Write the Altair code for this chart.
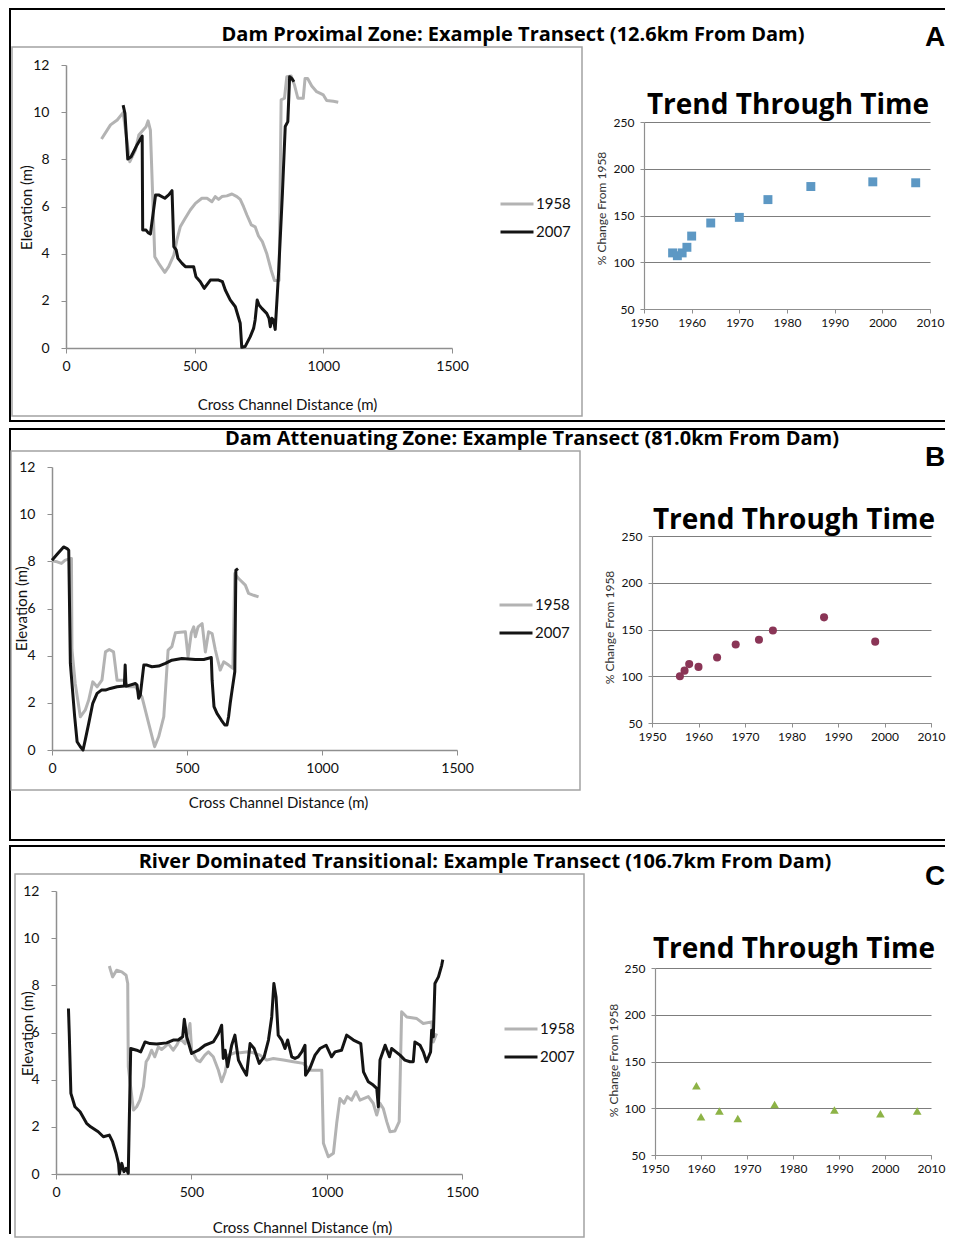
import altair as alt
import pandas as pd

# ---------------- data ----------------
# Transect A (Dam Proximal Zone, 12.6 km from dam): (distance m, elevation m)
A_1958 = [(138, 8.86), (173, 9.46), (199, 9.67), (222, 9.98), (248, 7.9), (270, 8.4), (283, 9.03),
          (311, 9.38), (319, 9.63), (328, 9.24), (345, 3.87), (360, 3.59), (384, 3.21), (399, 3.45),
          (419, 3.94), (431, 4.58), (444, 5.14), (461, 5.46), (483, 5.85), (503, 6.13), (528, 6.35),
          (548, 6.35), (567, 6.2), (580, 6.42), (593, 6.3), (606, 6.42), (625, 6.45), (645, 6.53),
          (664, 6.42), (677, 6.3), (690, 5.99), (703, 5.64), (720, 5.22), (735, 5.14), (748, 4.75),
          (763, 4.51), (780, 4.01), (797, 3.31), (810, 2.86), (828, 2.86), (836, 10.52), (849, 10.59),
          (858, 11.5), (875, 11.53), (888, 11.15), (901, 10.59), (922, 10.59), (929, 11.43),
          (939, 11.43), (955, 11.11), (974, 10.87), (1000, 10.73), (1013, 10.49), (1039, 10.46),
          (1058, 10.42)]
A_2007 = [(222, 10.3), (229, 9.95), (240, 8.01), (253, 8.11), (276, 8.61), (296, 8.99), (298, 5.0),
          (311, 5.0), (319, 4.89), (328, 4.83), (348, 6.49), (360, 6.49), (384, 6.35), (399, 6.49),
          (412, 6.67), (419, 4.3), (428, 4.16), (435, 3.8), (451, 3.59), (464, 3.45), (496, 3.45),
          (505, 3.02), (522, 2.81), (537, 2.53), (561, 2.88), (593, 2.88), (608, 2.81), (619, 2.46),
          (638, 2.04), (658, 1.75), (677, 1.05), (683, 0.03), (696, 0.06), (716, 0.48), (729, 0.83),
          (735, 1.19), (743, 2.04), (750, 1.82), (761, 1.68), (780, 1.47), (789, 1.26), (794, 0.9),
          (800, 1.26), (806, 1.19), (813, 0.79), (826, 3.17), (841, 6.56), (852, 9.39), (862, 9.6),
          (869, 11.5), (877, 11.43), (886, 11.29)]

# Transect B (Dam Attenuating Zone, 81.0 km from dam)
B_1958 = [(0, 8.02), (19, 7.98), (35, 7.91), (49, 8.05), (72, 8.12), (74, 4.24), (86, 2.82),
          (105, 1.41), (123, 1.69), (136, 2.12), (151, 2.89), (167, 2.68), (185, 2.96), (198, 4.16),
          (212, 4.26), (228, 4.16), (241, 2.96), (265, 2.96), (284, 2.68), (309, 2.68), (333, 2.26),
          (358, 1.13), (380, 0.14), (395, 0.56), (414, 1.41), (430, 4.24), (444, 4.38), (457, 4.97),
          (494, 5.01), (504, 3.95), (516, 4.97), (525, 5.22), (531, 4.8), (541, 5.22), (556, 5.36),
          (568, 4.16), (580, 5.01), (593, 4.94), (605, 4.24), (623, 3.39), (636, 3.74), (654, 3.6),
          (670, 3.46), (677, 7.48), (691, 7.27), (716, 6.99), (728, 6.64), (747, 6.56), (765, 6.49)]
B_2007 = [(0, 8.05), (19, 8.3), (43, 8.61), (56, 8.54), (62, 8.47), (68, 3.67), (74, 2.82),
          (84, 1.41), (93, 0.35), (105, 0.14), (115, 0.0), (123, 0.42), (136, 1.13), (151, 1.98),
          (167, 2.4), (183, 2.54), (198, 2.54), (216, 2.61), (241, 2.68), (268, 2.71), (271, 3.6),
          (274, 2.7), (309, 2.82), (315, 2.75), (321, 2.19), (327, 2.33), (340, 3.6), (352, 3.6),
          (370, 3.53), (395, 3.56), (420, 3.67), (444, 3.81), (481, 3.88), (531, 3.84), (562, 3.84),
          (590, 3.92), (593, 2.96), (600, 1.84), (611, 1.55), (627, 1.27), (640, 1.06), (648, 1.06),
          (654, 1.41), (660, 1.98), (667, 2.54), (677, 3.32), (681, 7.62), (689, 7.69)]

# Transect C (River Dominated Transitional, 106.7 km from dam)
C_1958 = [(197, 8.82), (209, 8.36), (224, 8.64), (243, 8.57), (259, 8.43), (265, 8.08), (267, 4.55),
          (286, 2.71), (298, 2.85), (310, 3.13), (323, 3.7), (333, 4.76), (341, 4.9), (353, 5.25),
          (365, 4.97), (378, 5.39), (390, 5.28), (402, 5.39), (415, 5.53), (433, 5.25), (446, 5.46),
          (458, 5.75), (477, 5.53), (495, 6.38), (501, 5.25), (520, 4.83), (532, 4.76), (550, 5.04),
          (563, 5.18), (581, 4.97), (600, 4.4), (612, 3.91), (625, 4.33), (637, 5.04), (661, 5.14),
          (680, 5.14), (711, 5.18), (729, 5.14), (754, 5.04), (778, 4.83), (803, 4.9), (840, 4.83),
          (877, 4.76), (914, 4.69), (938, 4.4), (961, 4.4), (982, 4.4), (988, 1.3), (1006, 0.73),
          (1025, 0.88), (1037, 2.15), (1049, 3.2), (1064, 3.0), (1076, 3.28), (1092, 3.13),
          (1108, 3.49), (1123, 3.13), (1154, 3.28), (1172, 3.0), (1185, 2.5), (1197, 3.0),
          (1209, 2.78), (1222, 2.22), (1234, 1.79), (1252, 1.82), (1268, 2.22), (1277, 6.88),
          (1296, 6.66), (1333, 6.59), (1357, 6.38), (1388, 6.45), (1394, 5.6), (1406, 5.96)]
C_2007 = [(46, 7.02), (49, 5.96), (55, 3.42), (70, 2.85), (89, 2.64), (113, 2.15), (128, 2.0),
          (156, 1.79), (175, 1.58), (197, 1.65), (209, 1.37), (222, 0.88), (231, 0.45), (234, 0.0),
          (243, 0.45), (251, 0.1), (259, 0.24), (267, 0.03), (276, 5.32), (298, 5.25), (313, 5.18),
          (329, 5.6), (347, 5.53), (372, 5.51), (409, 5.56), (433, 5.68), (452, 5.68), (468, 5.82),
          (474, 6.56), (483, 5.82), (501, 5.11), (526, 5.25), (550, 5.46), (581, 5.6), (600, 5.96),
          (612, 6.31), (618, 4.9), (625, 5.25), (634, 4.55), (649, 5.46), (661, 5.89), (674, 4.83),
          (686, 4.55), (704, 4.19), (717, 5.53), (732, 5.32), (751, 4.69), (769, 4.97), (785, 5.68),
          (797, 6.66), (805, 8.08), (813, 7.51), (821, 5.89), (834, 5.68), (846, 5.32), (856, 5.68),
          (871, 4.97), (883, 4.9), (895, 4.97), (908, 5.18), (920, 5.46), (922, 4.19), (938, 4.48),
          (957, 5.04), (975, 5.32), (998, 5.46), (1018, 4.97), (1031, 5.18), (1055, 5.25),
          (1074, 5.89), (1099, 5.68), (1126, 5.53), (1136, 4.33), (1154, 3.91), (1172, 3.77),
          (1185, 3.63), (1191, 2.85), (1197, 4.83), (1216, 5.46), (1232, 4.97), (1240, 5.32),
          (1256, 5.18), (1271, 5.04), (1289, 4.83), (1308, 4.76), (1320, 4.76), (1326, 5.6),
          (1345, 5.46), (1357, 5.18), (1369, 4.76), (1384, 5.18), (1388, 6.1), (1394, 5.82),
          (1400, 8.08), (1413, 8.36), (1425, 8.85), (1429, 9.09)]

# Trend through time (% change from 1958)
TREND_A_YEAR = [1956, 1957, 1958, 1959, 1960, 1964, 1970, 1976, 1985, 1998, 2007]
TREND_A_PCT = [110, 107, 110, 116, 128, 142, 148, 167, 181, 186, 185]
TREND_B_YEAR = [1956, 1957, 1958, 1960, 1964, 1968, 1973, 1976, 1987, 1998]
TREND_B_PCT = [100, 106, 113, 110, 120, 134, 139, 149, 163, 137]
TREND_C_YEAR = [1959, 1960, 1964, 1968, 1976, 1989, 1999, 2007]
TREND_C_PCT = [124, 91, 97, 89, 104, 98, 94, 97]

SERIES = ["1958", "2007"]
X_TICKS = [0, 500, 1000, 1500]
Y_TICKS = [0, 2, 4, 6, 8, 10, 12]
YEAR_TICKS = [1950, 1960, 1970, 1980, 1990, 2000, 2010]
PCT_TICKS = [50, 100, 150, 200, 250]

TITLES = ["Dam Proximal Zone: Example Transect (12.6km From Dam)",
          "Dam Attenuating Zone: Example Transect (81.0km From Dam)",
          "River Dominated Transitional: Example Transect (106.7km From Dam)"]
LETTERS = ["A", "B", "C"]

# ---------------- styling / layout ----------------
FONT = "Lato"
HEAD_FONT = "Open Sans"
GRAY_LINE = "#b3b3b3"
BLACK_LINE = "#141414"
AXIS_GRAY = "#8f8f8f"
COL0_W = 580
COL1_W = 356
FRAME_R = 936


def one():
    return alt.Data(values=[{"k": 0}])


def bar(x1, x2, y1, y2, color="black"):
    # solid thin rectangle used for the panel frame lines
    return alt.Chart(one()).mark_rect(color=color, strokeWidth=0).encode(
        x=alt.value(x1), x2=alt.value(x2), y=alt.value(y1), y2=alt.value(y2))


def box(x1, x2, y1, y2, color="#a3a3a3", width=1.5):
    return alt.Chart(one()).mark_rect(fillOpacity=0, stroke=color, strokeWidth=width).encode(
        x=alt.value(x1), x2=alt.value(x2), y=alt.value(y1), y2=alt.value(y2))


def label(text, x, y, size, font=HEAD_FONT, weight="bold"):
    return alt.Chart(one()).mark_text(
        text=text, font=font, fontSize=size, fontWeight=weight, align="center",
        baseline="middle", color="black").encode(x=alt.value(x), y=alt.value(y))


def transect(s58, s07, title, letter, g):
    rows = []
    for yr, s in ((SERIES[0], s58), (SERIES[1], s07)):
        for k, (d, e) in enumerate(s):
            rows.append({"dist": d, "elev": e, "Year": yr, "idx": k})
    df = pd.DataFrame(rows)
    H = g["H"]
    x0, x1 = g["xr"]
    yb, yt = g["yr"]
    lines = alt.Chart(df).mark_line(strokeWidth=3, strokeJoin="round").encode(
        x=alt.X("dist:Q",
                scale=alt.Scale(domain=[0, 1500], range=[x0, x1], nice=False, zero=False),
                axis=alt.Axis(values=X_TICKS, format="d", offset=yb - H, tickSize=5,
                              tickColor=AXIS_GRAY, domainColor=AXIS_GRAY, domainWidth=1.5,
                              labelFlush=False, labelPadding=6, labelFontSize=14,
                              labelColor="#111",
                              title="Cross Channel Distance (m)", titleX=g["xtx"], titleY=g["xty"],
                              titleBaseline="middle", titleAlign="center", titleFontSize=15,
                              titleFontWeight="normal", titleColor="#111", grid=False)),
        y=alt.Y("elev:Q",
                scale=alt.Scale(domain=[0, 12], range=[yb, yt], nice=False, zero=False),
                axis=alt.Axis(values=Y_TICKS, offset=-x0, tickSize=5, tickColor=AXIS_GRAY,
                              domainColor=AXIS_GRAY, domainWidth=1.5, labelFlush=False,
                              labelPadding=12, labelFontSize=14, labelColor="#111",
                              title="Elevation (m)",
                              titleX=g["ytx"] - x0, titleY=g["yty"], titleBaseline="middle",
                              titleAlign="center", titleFontSize=15, titleFontWeight="normal",
                              titleColor="#111", grid=False)),
        color=alt.Color("Year:N",
                        scale=alt.Scale(domain=SERIES, range=[GRAY_LINE, BLACK_LINE]),
                        legend=alt.Legend(orient="none", legendX=g["lx"], legendY=g["ly"],
                                          title=None, symbolType="stroke", symbolSize=1089,
                                          symbolStrokeWidth=3, labelFontSize=15, labelFont=FONT,
                                          labelColor="#111", labelOffset=1, clipHeight=18,
                                          rowPadding=10, padding=0)),
        order=alt.Order("idx:Q"),
    )
    fb = g["fb"]
    layers = [bar(0, FRAME_R, 0, 2), bar(0, 2, 0, fb)]
    if g.get("bottom", True):
        layers.append(bar(0, FRAME_R, fb - 1, fb + 1))
    layers += [box(*g["box"]), lines,
               label(title, g["tx"], g["ty"], 20),
               label(letter, 926, g["ly_letter"], 28, font="Liberation Sans")]
    return alt.layer(*layers).properties(width=COL0_W, height=H)


def trend(years, vals, shape, color, size, g):
    df = pd.DataFrame({"year": years, "pct": vals})
    H = g["H"]
    x0, x1 = g["xr"]
    yb, yt = g["yr"]
    pts = alt.Chart(df).mark_point(shape=shape, filled=True, size=size, color=color,
                                   opacity=1).encode(
        x=alt.X("year:Q",
                scale=alt.Scale(domain=[1950, 2010], range=[x0, x1], nice=False, zero=False),
                axis=alt.Axis(values=YEAR_TICKS, format="d", offset=yb - H, tickSize=4,
                              tickColor=AXIS_GRAY, domainColor=AXIS_GRAY, domainWidth=1.2,
                              labelFlush=False, labelPadding=4, labelFontSize=12,
                              labelColor="#111", title=None, grid=False)),
        y=alt.Y("pct:Q",
                scale=alt.Scale(domain=[50, 250], range=[yb, yt], nice=False, zero=False),
                axis=alt.Axis(values=PCT_TICKS, offset=-x0, tickSize=4, tickColor=AXIS_GRAY,
                              domainColor=AXIS_GRAY, domainWidth=1.2, labelFlush=False,
                              labelPadding=6, labelFontSize=12, labelColor="#111", grid=True,
                              gridColor="#7d7d7d", gridWidth=1.2,
                              title="% Change From 1958", titleX=g["ytx"] - x0,
                              titleY=g["yty"], titleBaseline="middle", titleAlign="center",
                              titleFontSize=12, titleFontWeight="normal", titleColor="#333")),
    )
    ttl = label("Trend Through Time", g["tx"], g["ty"], 28)
    return alt.layer(pts, ttl).properties(width=COL1_W, height=H)


TA = transect(A_1958, A_2007, TITLES[0], LETTERS[0], dict(
    H=414, xr=(57, 443), yr=(340, 57), xtx=278, xty=56, ytx=17, yty=199, lx=490, ly=187,
    fb=413, box=(3, 573, 39, 408), tx=504, ty=27, ly_letter=30))
RA = trend(TREND_A_YEAR, TREND_A_PCT, "square", "#5d98c4", 80, dict(
    H=414, xr=(55, 341), yr=(301, 114), ytx=12, yty=200, tx=199, ty=98))

TB = transect(B_1958, B_2007, TITLES[1], LETTERS[1], dict(
    H=411, xr=(43, 448), yr=(322, 39), xtx=269, xty=52, ytx=12, yty=180, lx=489, ly=168,
    fb=412, box=(2, 571, 23, 362), tx=523, ty=11, ly_letter=30))
RB = trend(TREND_B_YEAR, TREND_B_PCT, "circle", "#8a3556", 65, dict(
    H=411, xr=(63, 342), yr=(295, 108), ytx=20, yty=199, tx=205, ty=93))

TC = transect(C_1958, C_2007, TITLES[2], LETTERS[2], dict(
    H=389, xr=(47, 453), yr=(329, 46), xtx=293, xty=53, ytx=18, yty=188, lx=494, ly=175,
    fb=389, bottom=False, box=(6, 575, 29, 392), tx=476, ty=17, ly_letter=32))
RC = trend(TREND_C_YEAR, TREND_C_PCT, "triangle-up", "#8db346", 75, dict(
    H=389, xr=(66, 342), yr=(310, 123), ytx=24, yty=215, tx=205, ty=105))

chart = alt.concat(
    TA, RA, TB, RB, TC, RC, columns=2, spacing={"row": 6, "column": 0},
    bounds="flush", align="each",
).resolve_scale(
    color="independent", x="independent", y="independent"
).resolve_legend(color="independent").properties(
    padding={"left": 1, "top": 0, "right": 0, "bottom": 0}
).configure(
    font=FONT, view=alt.ViewConfig(stroke="transparent", strokeWidth=0)
)

chart.save("out.html", embed_options={"renderer": "svg", "actions": False})
